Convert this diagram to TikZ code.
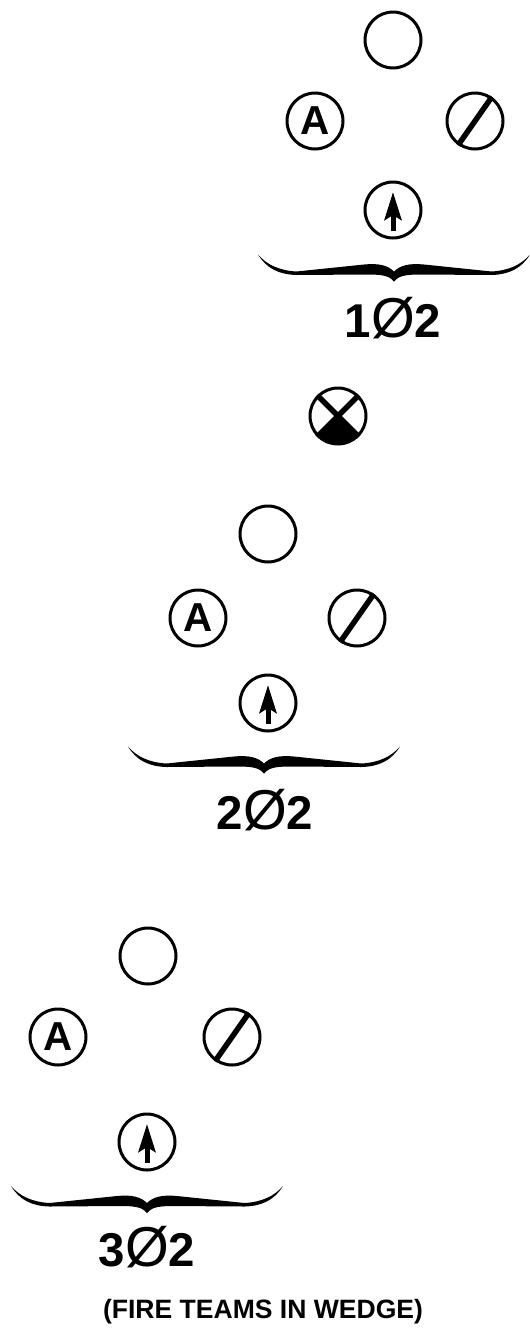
\documentclass[tikz,border=0pt]{standalone}
\usepackage{fontspec}
\setmainfont{Liberation Sans}
\usetikzlibrary{arrows.meta}
\newcommand{\bigzero}{\fontsize{32}{32}\selectfont\mdseries}

\begin{document}
\begin{tikzpicture}[
 soldier/.style={
  circle,
  draw=black,
  line width=.6mm,
  minimum size=11.2mm,
  inner sep=0pt,
  font=\fontsize{23}{23}\selectfont\bfseries
 },
 slashmark/.style={line width=1.1mm},
 arrowmark/.style={
  -{Stealth[length=5.6mm,width=3.4mm,inset=1mm]},
  line width=1mm,
  shorten <=1.7mm,
  shorten >=2.3mm
 },
 platoon/.style={font=\fontsize{27}{27}\selectfont\bfseries},
 bracemark/.pic={
  \foreach \s in {1,-1}
   \fill[xscale=\s] (0,0) .. controls (.08,.1) and (.2,.14) .. (.5,.14)
    -- (1.95,.13) .. controls (2.3,.14) and (2.55,.26) .. (2.72,.54)
    .. controls (2.55,.34) and (2.3,.22) .. (1.95,.2)
    -- (.6,.34) .. controls (.3,.37) and (.12,.32) .. (0,.2) -- cycle;
 }
]
 \useasboundingbox[fill=white] (0,0) rectangle (10.58,-26.58);

 % first platoon
 \node[soldier] (top1) at (7.86,-.8) {};
 \node[soldier] (auto1) at (6.3,-2.42) {A};
 \node[soldier] (rifle1) at (9.5,-2.42) {};
 \node[soldier] (lead1) at (7.86,-4.2) {};
 \draw[slashmark] (rifle1.55) -- (rifle1.235);
 \draw[arrowmark] (lead1.south) -- (lead1.north);
 \pic at (7.88,-5.63) {bracemark};
 \node[platoon] (name1) at (7.86,-6.37) {1{\bigzero Ø}2};

 % leader
 \node[soldier] (lt) at (6.76,-8.32) {};
 \fill (lt.center) -- (lt.220) arc[start angle=220,end angle=320,radius=5.6mm] -- cycle;
 \draw[slashmark] (lt.135) -- (lt.center) -- (lt.45);
 \draw[slashmark] (lt.center) -- (lt.225);
 \draw[slashmark] (lt.center) -- (lt.315);

 % second platoon
 \node[soldier] (top2) at (5.36,-10.68) {};
 \node[soldier] (auto2) at (3.96,-12.36) {A};
 \node[soldier] (rifle2) at (7.14,-12.36) {};
 \node[soldier] (lead2) at (5.36,-14.06) {};
 \draw[slashmark] (rifle2.55) -- (rifle2.235);
 \draw[arrowmark] (lead2.south) -- (lead2.north);
 \pic at (5.28,-15.47) {bracemark};
 \node[platoon] (name2) at (5.3,-16.2) {2{\bigzero Ø}2};

 % third platoon
 \node[soldier] (top3) at (2.96,-19.12) {};
 \node[soldier] (auto3) at (1.16,-20.74) {A};
 \node[soldier] (rifle3) at (4.64,-20.74) {};
 \node[soldier] (lead3) at (2.94,-22.84) {};
 \draw[slashmark] (rifle3.55) -- (rifle3.235);
 \draw[arrowmark] (lead3.south) -- (lead3.north);
 \pic at (2.94,-24.26) {bracemark};
 \node[platoon] (name3) at (2.94,-24.95) {3{\bigzero Ø}2};

 \node[font=\fontsize{15.1}{16}\selectfont\bfseries] (note) at (5.26,-26.24) {(FIRE TEAMS IN WEDGE)};
\end{tikzpicture}
\end{document}
